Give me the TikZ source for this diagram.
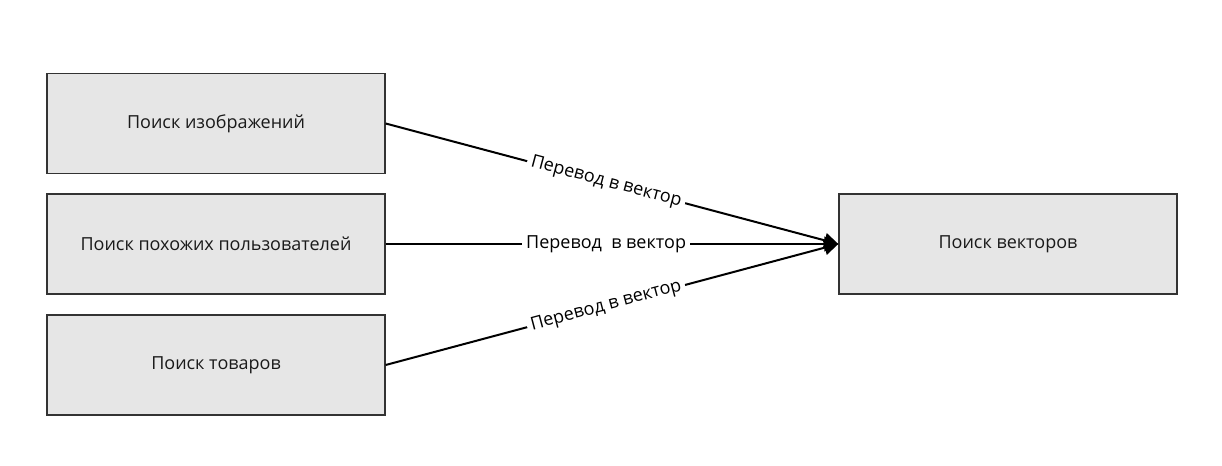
\documentclass[tikz,border=0pt]{standalone}
\usepackage{fontspec}
\setmainfont{Open Sans}
\usetikzlibrary{arrows.meta}
\definecolor{boxfill}{HTML}{E6E6E6}
\definecolor{boxline}{HTML}{333333}
\definecolor{txt}{HTML}{1A1A1A}
\begin{document}
\begin{tikzpicture}[x=0.75pt,y=-0.75pt,
  box/.style={draw=boxline,line width=1pt,fill=boxfill,minimum width=253.5pt,minimum height=75pt,inner sep=0pt,text=txt,font=\fontsize{13.5pt}{16pt}\selectfont},
  conn/.style={line width=1.5pt,-{Triangle[length=10.5pt,width=11pt]}},
  lbl/.style={fill=white,inner sep=3pt,font=\fontsize{13.5pt}{16pt}\selectfont,text=black}]
\useasboundingbox (0,0) rectangle (1222,466);
\node[box] (a) at (216,123.5) {Поиск изображений};
\node[box] (b) at (216,244) {Поиск похожих пользователей};
\node[box] (c) at (216,365) {Поиск товаров};
\node[box] (d) at (1008,244) {Поиск векторов};
\draw[conn] (a.east) -- node[lbl,sloped,pos=0.487] {Перевод в вектор} (d.west);
\draw[conn] (b.east) -- node[lbl,pos=0.487] {Перевод\ \ в вектор} (d.west);
\draw[conn] (c.east) -- node[lbl,sloped,pos=0.487] {Перевод в вектор} (d.west);
\end{tikzpicture}
\end{document}
